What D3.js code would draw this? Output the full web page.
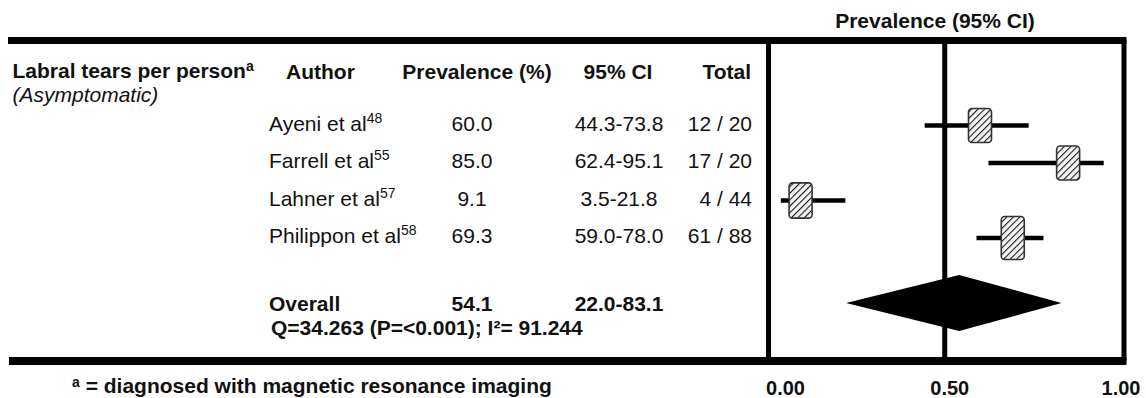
<!DOCTYPE html>
<html>
<head>
<meta charset="utf-8">
<script src="https://cdn.jsdelivr.net/npm/d3@7"></script>
<style>
  html, body { margin: 0; padding: 0; background: #fff; }
  svg { display: block; font-family: "Liberation Sans", Arial, sans-serif; }
</style>
</head>
<body>
<svg id="chart" width="1146" height="398"></svg>
<script>
// ---- Data ----
const authors = ["Ayeni et al", "Farrell et al", "Lahner et al", "Philippon et al"];
const refs = ["48", "55", "57", "58"];
const prevalence = [60.0, 85.0, 9.1, 69.3];
const ciLow = [44.3, 62.4, 3.5, 59.0];
const ciHigh = [73.8, 95.1, 21.8, 78.0];
const events = [12, 17, 4, 61];
const totals = [20, 20, 44, 88];
const weights = [24.2, 24.2, 24.6, 27.0]; // estimated relative weights (box size)
const overallPrev = 54.1, overallLow = 22.0, overallHigh = 83.1;
const heterogeneity = "Q=34.263 (P=<0.001); I\u00B2= 91.244";
const tickValues = [0, 0.5, 1];
const tickLabels = ["0.00", "0.50", "1.00"];
const headers = ["Author", "Prevalence (%)", "95% CI", "Total"];

// ---- Layout ----
const svg = d3.select("#chart");
const ink = "#111";
const plotLeft = 768.5, plotRight = 1124, ruleTop = 40.5, ruleBottom = 361;
const x = d3.scaleLinear().domain([0, 1]).range([plotLeft, plotRight - 3]);
const y = d3.scalePoint().domain(authors).range([125.5, 238]);
const overallY = 303;
const boxH = d3.scaleLinear().domain([24.2, 27.0]).range([34, 43]);
const boxW = 23;

// hatch pattern
const defs = svg.append("defs");
const pat = defs.append("pattern").attr("id", "hatch")
  .attr("patternUnits", "userSpaceOnUse").attr("width", 4.6).attr("height", 4.6)
  .attr("patternTransform", "rotate(45)");
pat.append("rect").attr("width", 4.6).attr("height", 4.6).attr("fill", "#f6f6f6");
pat.append("line").attr("x1", 0).attr("y1", 0).attr("x2", 0).attr("y2", 4.6)
  .attr("stroke", "#1a1a1a").attr("stroke-width", 2.2);

// title over plot
svg.append("text").attr("x", 935).attr("y", 28).attr("text-anchor", "middle")
  .attr("font-size", 21).attr("font-weight", "bold").attr("fill", ink)
  .text("Prevalence (95% CI)");

// panel vertical lines
[plotLeft, x(0.5), plotRight].forEach(v => {
  svg.append("line").attr("x1", v).attr("x2", v).attr("y1", ruleTop).attr("y2", ruleBottom)
    .attr("stroke", "#000").attr("stroke-width", 5);
});

// horizontal rules
svg.append("line").attr("x1", 8).attr("x2", plotRight + 2.5).attr("y1", ruleTop).attr("y2", ruleTop)
  .attr("stroke", "#000").attr("stroke-width", 7);
svg.append("line").attr("x1", 9).attr("x2", plotRight + 2.5).attr("y1", ruleBottom).attr("y2", ruleBottom)
  .attr("stroke", "#000").attr("stroke-width", 8);

// header row
const hdr = svg.append("text").attr("x", 12.5).attr("y", 78).attr("font-size", 21)
  .attr("font-weight", "bold").attr("fill", ink);
hdr.append("tspan").text("Labral tears per person");
hdr.append("tspan").attr("font-size", 14).attr("dy", -7).text("a");
svg.append("text").attr("x", 12.5).attr("y", 102).attr("font-size", 21)
  .attr("font-style", "italic").attr("fill", ink).text("(Asymptomatic)");

const colX = [286, 477, 618, 751];
const colAnchor = ["start", "middle", "middle", "end"];
headers.forEach((h, i) => {
  svg.append("text").attr("x", colX[i]).attr("y", 79).attr("text-anchor", colAnchor[i])
    .attr("font-size", 21).attr("font-weight", "bold").attr("fill", ink).text(h);
});

// study rows text
const rows = authors.map((a, i) => ({a, i}));
rows.forEach(({a, i}) => {
  const by = y(a) + 5;
  const t = svg.append("text").attr("x", 269).attr("y", by).attr("font-size", 21).attr("fill", ink);
  t.append("tspan").text(a);
  t.append("tspan").attr("font-size", 14).attr("dy", -8).text(refs[i]);
  svg.append("text").attr("x", 472).attr("y", by).attr("text-anchor", "middle")
    .attr("font-size", 21).attr("fill", ink).text(prevalence[i].toFixed(1));
  svg.append("text").attr("x", 619).attr("y", by).attr("text-anchor", "middle")
    .attr("font-size", 21).attr("fill", ink)
    .text(ciLow[i].toFixed(1) + "-" + ciHigh[i].toFixed(1));
  svg.append("text").attr("x", 752).attr("y", by).attr("text-anchor", "end")
    .attr("font-size", 21).attr("fill", ink).text(events[i] + " / " + totals[i]);
});

// CI lines
svg.append("g").selectAll("line").data(rows).join("line")
  .attr("x1", d => x(ciLow[d.i] / 100)).attr("x2", d => x(ciHigh[d.i] / 100))
  .attr("y1", d => y(d.a)).attr("y2", d => y(d.a))
  .attr("stroke", "#000").attr("stroke-width", 4.5);

// boxes
svg.append("g").selectAll("rect").data(rows).join("rect")
  .attr("x", d => x(prevalence[d.i] / 100) - boxW / 2)
  .attr("y", d => y(d.a) - boxH(weights[d.i]) / 2)
  .attr("width", boxW).attr("height", d => boxH(weights[d.i]))
  .attr("rx", 3.5).attr("ry", 3.5)
  .attr("fill", "url(#hatch)").attr("stroke", "#333").attr("stroke-width", 1.6);

// overall row
svg.append("text").attr("x", 269).attr("y", 311).attr("font-size", 21).attr("font-weight", "bold")
  .attr("fill", ink).text("Overall");
svg.append("text").attr("x", 472).attr("y", 311).attr("text-anchor", "middle").attr("font-size", 21)
  .attr("font-weight", "bold").attr("fill", ink).text(overallPrev.toFixed(1));
svg.append("text").attr("x", 619).attr("y", 311).attr("text-anchor", "middle").attr("font-size", 21)
  .attr("font-weight", "bold").attr("fill", ink)
  .text(overallLow.toFixed(1) + "-" + overallHigh.toFixed(1));
svg.append("text").attr("x", 271).attr("y", 335).attr("font-size", 21).attr("font-weight", "bold")
  .attr("fill", ink).text(heterogeneity);

// diamond
const dh = 28;
svg.append("path")
  .attr("d", d3.line()([
    [x(overallLow / 100), overallY],
    [x(overallPrev / 100), overallY - dh],
    [x(overallHigh / 100), overallY],
    [x(overallPrev / 100), overallY + dh]
  ]) + "Z")
  .attr("fill", "#000");

// axis tick labels
const labelOffset = [17, 5, 0];
tickValues.forEach((v, i) => {
  svg.append("text").attr("x", x(v) + labelOffset[i]).attr("y", 395).attr("text-anchor", "middle")
    .attr("font-size", 20).attr("font-weight", "bold").attr("fill", ink).text(tickLabels[i]);
});

// footnote
const fn = svg.append("text").attr("x", 72).attr("y", 393).attr("font-size", 21)
  .attr("font-weight", "bold").attr("fill", ink);
fn.append("tspan").attr("font-size", 14).attr("dy", -6).text("a");
fn.append("tspan").attr("dy", 6).text(" = diagnosed with magnetic resonance imaging");
</script>
</body>
</html>
